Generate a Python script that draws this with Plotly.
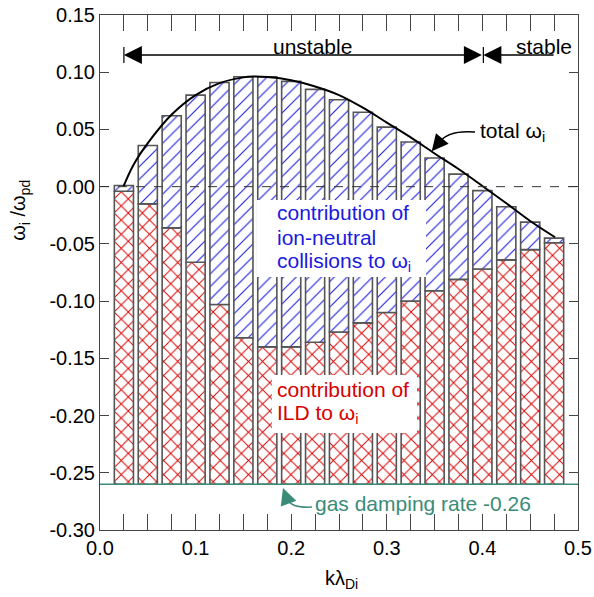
import plotly.graph_objects as go

# ---------------- data ----------------
k_bars = [0.025, 0.05, 0.075, 0.1, 0.125, 0.15, 0.175, 0.2, 0.225, 0.25,
          0.275, 0.3, 0.325, 0.35, 0.375, 0.4, 0.425, 0.45, 0.475]
total_wi = [0.001, 0.036, 0.062, 0.080, 0.091, 0.096, 0.096, 0.092, 0.085, 0.076,
            0.065, 0.052, 0.039, 0.025, 0.011, -0.0035, -0.0175, -0.031, -0.045]
ild_level = [-0.004, -0.015, -0.036, -0.066, -0.103, -0.132, -0.140, -0.140, -0.136, -0.127,
             -0.119, -0.110, -0.100, -0.091, -0.081, -0.072, -0.064, -0.055, -0.049]
gas_damping = -0.26

k_curve = [0.0244, 0.035, 0.05, 0.075, 0.1, 0.125, 0.15, 0.16, 0.175, 0.2, 0.225,
           0.25, 0.275, 0.3, 0.325, 0.35, 0.375, 0.4, 0.425, 0.45, 0.476]
w_curve = [0.000, 0.019, 0.038, 0.063, 0.080, 0.0905, 0.0955, 0.0962, 0.0958, 0.093, 0.0875,
           0.080, 0.069, 0.056, 0.043, 0.029, 0.0154, 0.0006, -0.0145, -0.030, -0.0442]

x_tickvals = [0.0, 0.025, 0.05, 0.075, 0.1, 0.125, 0.15, 0.175, 0.2, 0.225, 0.25,
              0.275, 0.3, 0.325, 0.35, 0.375, 0.4, 0.425, 0.45, 0.475, 0.5]
x_ticktext = ["0.0", "", "", "", "0.1", "", "", "", "0.2", "", "", "", "0.3", "", "", "",
              "0.4", "", "", "", "0.5"]
y_tickvals = [0.15, 0.10, 0.05, 0.0, -0.05, -0.10, -0.15, -0.20, -0.25, -0.30]
y_ticktext = ["0.15", "0.10", "0.05", "0.00", "-0.05", "-0.10", "-0.15", "-0.20", "-0.25", "-0.30"]

FONT = "Liberation Sans, Arial, sans-serif"
RED = "#d80000"
BLUE = "#1a1ae0"
TEAL = "#3a8c78"
EDGE = "#555555"

red_h = [v - gas_damping for v in ild_level]
blue_h = [t - v for t, v in zip(total_wi, ild_level)]

fig = go.Figure()
fig.add_trace(go.Bar(
    x=k_bars, y=red_h, base=[gas_damping] * len(k_bars), width=0.02,
    marker=dict(color="white",
                line=dict(color=EDGE, width=1.6),
                pattern=dict(shape="x", fgcolor=RED, bgcolor="white", size=10,
                             solidity=0.18, fillmode="overlay", fgopacity=1)),
    showlegend=False, hoverinfo="skip"))
fig.add_trace(go.Bar(
    x=k_bars, y=blue_h, base=ild_level, width=0.02,
    marker=dict(color="white",
                line=dict(color=EDGE, width=1.6),
                pattern=dict(shape="/", fgcolor=BLUE, bgcolor="white", size=9,
                             solidity=0.12, fillmode="overlay", fgopacity=1)),
    showlegend=False, hoverinfo="skip"))
fig.add_trace(go.Scatter(
    x=k_curve, y=w_curve, mode="lines", line=dict(color="black", width=2, shape="spline"),
    showlegend=False, hoverinfo="skip"))

shapes = []
# zero dashed line and gas damping line
shapes.append(dict(type="line", xref="x", yref="y", x0=0, x1=0.5, y0=0, y1=0,
                   line=dict(color="#333333", width=1, dash="dash"), layer="above"))
shapes.append(dict(type="line", xref="x", yref="y", x0=0, x1=0.5, y0=gas_damping, y1=gas_damping,
                   line=dict(color=TEAL, width=1.5), layer="above"))
# white label boxes
shapes.append(dict(type="rect", xref="x", yref="y", x0=0.1642, x1=0.3410, y0=-0.0790, y1=-0.0116,
                   fillcolor="white", line=dict(width=0), layer="above"))
shapes.append(dict(type="rect", xref="x", yref="y", x0=0.1799, x1=0.3316, y0=-0.2153, y1=-0.1646,
                   fillcolor="white", line=dict(width=0), layer="above"))
# stable / unstable arrow end bars
shapes.append(dict(type="line", xref="x", yref="y", x0=0.025, x1=0.025, y0=0.1081, y1=0.1221,
                   line=dict(color="black", width=1.2)))
shapes.append(dict(type="line", xref="x", yref="y", x0=0.401, x1=0.401, y0=0.1081, y1=0.1221,
                   line=dict(color="black", width=1.2)))
# curved arrow tails
shapes.append(dict(type="path", xref="x", yref="y",
                   path="M 0.3923,0.0478 Q 0.364,0.0496 0.3556,0.0391",
                   line=dict(color="black", width=1.5)))
shapes.append(dict(type="path", xref="x", yref="y",
                   path="M 0.2218,-0.2800 Q 0.2008,-0.2809 0.1967,-0.2739",
                   line=dict(color=TEAL, width=1.5)))

ann = []
def txt(x, y, s, color="black", xanchor="left", size=21):
    ann.append(dict(x=x, y=y, xref="x", yref="y", text=s, showarrow=False,
                    xanchor=xanchor, yanchor="middle",
                    font=dict(family=FONT, size=size, color=color)))

txt(0.2223, 0.1225, "unstable", xanchor="center")
txt(0.433, 0.1225, "stable")
txt(0.3954, 0.0478, "total ω<sub>i</sub>")
txt(0.1830, -0.0230, "contribution of", BLUE)
txt(0.1830, -0.0440, "ion-neutral", BLUE)
txt(0.1830, -0.0660, "collisions to ω<sub>i</sub>", BLUE)
txt(0.1830, -0.1770, "contribution of", RED)
txt(0.1830, -0.1990, "ILD to ω<sub>i</sub>", RED)
txt(0.2228, -0.2765, "gas damping rate -0.26", TEAL)

# arrows
ann.append(dict(x=0.025, y=0.1151, ax=0.401, ay=0.1151, xref="x", yref="y", axref="x", ayref="y",
                text="", showarrow=True, arrowside="end+start", arrowhead=2, startarrowhead=2,
                arrowsize=2.4, startarrowsize=2.4, arrowwidth=1.5, arrowcolor="black"))
ann.append(dict(x=0.401, y=0.1151, ax=0.476, ay=0.1151, xref="x", yref="y", axref="x", ayref="y",
                text="", showarrow=True, arrowside="end", arrowhead=2,
                arrowsize=2.4, arrowwidth=1.5, arrowcolor="black"))
ann.append(dict(x=0.347, y=0.031, ax=10, ay=-12, xref="x", yref="y",
                text="", showarrow=True, arrowhead=2, arrowsize=2.2, arrowwidth=1.5, arrowcolor="black"))
ann.append(dict(x=0.1914, y=-0.2634, ax=5, ay=14, xref="x", yref="y",
                text="", showarrow=True, arrowhead=2, arrowsize=2.2, arrowwidth=1.5, arrowcolor=TEAL))

# axis titles
ann.append(dict(x=-0.167, y=0.62, xref="paper", yref="paper", text="ω<sub>i</sub> /ω<sub>pd</sub>",
                textangle=-90, showarrow=False, xanchor="center", yanchor="middle",
                font=dict(family=FONT, size=20, color="black")))
ann.append(dict(x=0.506, y=-0.068, xref="paper", yref="paper", text="kλ<sub>Di</sub>",
                showarrow=False, xanchor="center", yanchor="top",
                font=dict(family=FONT, size=20, color="black")))

fig.update_layout(
    width=594, height=597,
    margin=dict(l=100, r=16, t=15, b=67, autoexpand=False),
    paper_bgcolor="white", plot_bgcolor="white",
    barmode="overlay",
    shapes=shapes, annotations=ann,
    font=dict(family=FONT, size=20, color="black"),
    xaxis=dict(range=[0, 0.5], tickvals=x_tickvals, ticktext=x_ticktext, automargin=False,
               ticks="inside", ticklen=16, tickwidth=1, tickcolor="#444",
               showline=True, linecolor="#444", linewidth=1, mirror="allticks",
               showgrid=False, zeroline=False,
               tickfont=dict(family=FONT, size=20, color="black")),
    yaxis=dict(range=[-0.30, 0.15], tickvals=y_tickvals, ticktext=y_ticktext, automargin=False,
               ticks="inside", ticklen=9, tickwidth=1, tickcolor="#444",
               showline=True, linecolor="#444", linewidth=1, mirror="allticks",
               showgrid=False, zeroline=False,
               tickfont=dict(family=FONT, size=20, color="black")),
)

fig.write_html("out.html")
